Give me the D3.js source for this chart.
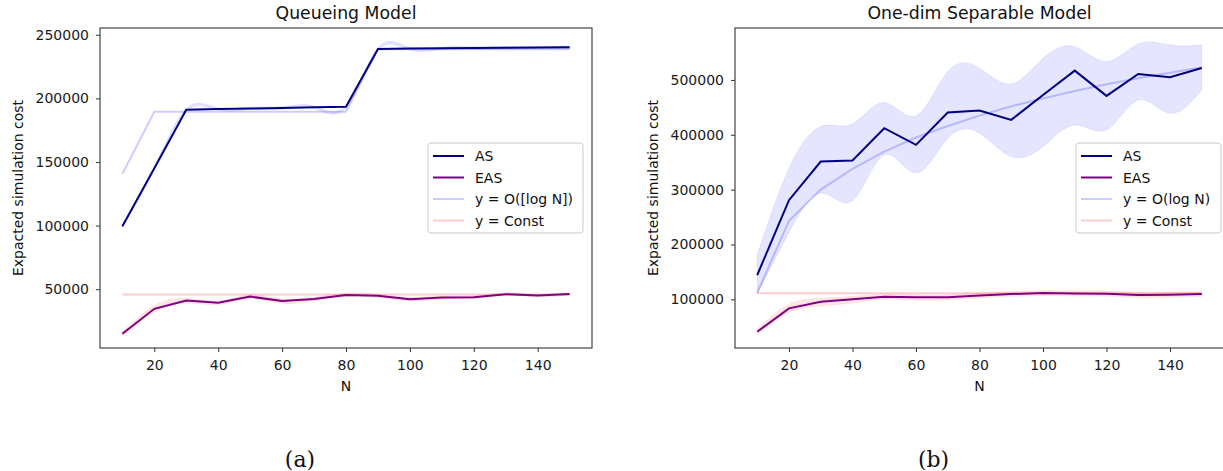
<!DOCTYPE html>
<html>
<head>
<meta charset="utf-8">
<title>Expected simulation cost</title>
<style>
  body { margin: 0; background: #fff; }
  svg { font-family: "DejaVu Sans", sans-serif; }
</style>
</head>
<body>
<div id="chart"></div>
<script src="https://d3js.org/d3.v7.min.js"></script>
<script>
// shared x values and ticks
var N = [10, 20, 30, 40, 50, 60, 70, 80, 90, 100, 110, 120, 130, 140, 150];
var xTicks = [20, 40, 60, 80, 100, 120, 140];

// (a) Queueing Model
var qAS    = [99500, 145000, 191100, 191600, 192000, 192500, 193000, 193400, 238800, 239100, 239300, 239500, 239700, 239900, 240100];
var qASLo  = [98500, 144000, 190100, 190600, 191000, 191500, 192000, 192400, 237800, 238100, 238300, 238500, 238700, 238900, 239100];
var qASHi  = [100500, 146000, 192100, 192600, 193000, 193500, 194000, 194400, 239800, 240100, 240300, 240500, 240700, 240900, 241100];
var qLog   = [140500, 189500, 189500, 189500, 189500, 189500, 189500, 189500, 238800, 238600, 238600, 238600, 238600, 238600, 238600];
var qEAS   = [15000, 34600, 41100, 39300, 44200, 40800, 42400, 45500, 44800, 42200, 43400, 43700, 46100, 45000, 46300];
var qEASLo = [13500, 32000, 39000, 38000, 42800, 38800, 41000, 44200, 43500, 40800, 42200, 42600, 45000, 44000, 45300];
var qEASHi = [16500, 37000, 43000, 40600, 45600, 42600, 43800, 46800, 46100, 43600, 44600, 44800, 47200, 46000, 47300];
var qConst = [45800, 45800, 45800, 45800, 45800, 45800, 45800, 45800, 45800, 45800, 45800, 45800, 45800, 45800, 45800];
var qTicks = [50000, 100000, 150000, 200000, 250000];

// (b) One-dim Separable Model
var sAS    = [144300, 280800, 351200, 353000, 412000, 381600, 440500, 444100, 427200, 472700, 517000, 470900, 510900, 504900, 521900];
var sASLo  = [110000, 222000, 294000, 280000, 363400, 330600, 393900, 403000, 360300, 378500, 418000, 409000, 463600, 439400, 481800];
var sASHi  = [180700, 338600, 415000, 420000, 458700, 434400, 515000, 521300, 492700, 539500, 560700, 533400, 565600, 563700, 563700];
var sLog   = [112000, 243000, 300000, 338000, 369500, 395000, 416000, 435000, 452000, 466000, 480000, 492000, 503000, 513000, 523000];
var sEAS   = [41000, 83600, 95600, 100000, 104700, 103600, 103600, 107200, 109600, 111400, 110800, 110200, 107800, 108400, 109600];
var sEASLo = [36000, 76000, 88000, 93500, 100000, 98500, 99000, 102500, 105000, 106500, 106000, 105500, 103500, 104000, 105000];
var sEASHi = [46000, 91000, 102000, 105500, 109500, 108500, 108500, 112000, 114200, 116200, 115600, 115000, 112400, 112800, 114200];
var sConst = [110900, 110900, 110900, 110900, 110900, 110900, 110900, 110900, 110900, 110900, 110900, 110900, 110900, 110900, 110900];
var sTicks = [100000, 200000, 300000, 400000, 500000];

var panels = [
  { title: "Queueing Model", caption: "(a)", left: 100, right: 592, yDomain: [3800, 255300],
    as: qAS, asLo: qASLo, asHi: qASHi, log: qLog, eas: qEAS, easLo: qEASLo, easHi: qEASHi,
    cst: qConst, yTicks: qTicks, logLabel: "y = O([log N])", legX: 428, legW: 155 },
  { title: "One-dim Separable Model", caption: "(b)", left: 735, right: 1224, yDomain: [11300, 594700],
    as: sAS, asLo: sASLo, asHi: sASHi, log: sLog, eas: sEAS, easLo: sEASLo, easHi: sEASHi,
    cst: sConst, yTicks: sTicks, logLabel: "y = O(log N)", legX: 1076, legW: 145 }
];

var plotTop = 28, plotBottom = 348;

var svg = d3.select("#chart").append("svg")
  .attr("width", 1223)
  .attr("height", 471);

panels.forEach(function(p) {
  var x = d3.scaleLinear().domain([3, 157]).range([p.left, p.right]);
  var y = d3.scaleLinear().domain(p.yDomain).range([plotBottom, plotTop]);
  var g = svg.append("g");

  var clip = "clip" + p.left;
  g.append("clipPath").attr("id", clip).append("rect")
    .attr("x", p.left).attr("y", plotTop).attr("width", p.right - p.left).attr("height", plotBottom - plotTop);
  var plot = g.append("g").attr("clip-path", "url(#" + clip + ")");

  var band = function(lo, hi) {
    return d3.area().curve(d3.curveNatural)
      .x(function(d, i) { return x(N[i]); })
      .y0(function(d, i) { return y(lo[i]); })
      .y1(function(d, i) { return y(hi[i]); })(lo);
  };
  var line = function(vals) {
    return d3.line()
      .x(function(d, i) { return x(N[i]); })
      .y(function(d) { return y(d); })(vals);
  };

  plot.append("path").attr("d", band(p.asLo, p.asHi))
    .attr("fill", "blue").attr("fill-opacity", 0.1)
    .attr("stroke", "blue").attr("stroke-opacity", 0.08).attr("stroke-width", 1);
  plot.append("path").attr("d", band(p.easLo, p.easHi))
    .attr("fill", "red").attr("fill-opacity", 0.1)
    .attr("stroke", "red").attr("stroke-opacity", 0.06).attr("stroke-width", 1);

  plot.append("path").attr("d", line(p.log))
    .attr("fill", "none").attr("stroke", "blue").attr("stroke-opacity", 0.2).attr("stroke-width", 2);
  plot.append("path").attr("d", line(p.cst))
    .attr("fill", "none").attr("stroke", "red").attr("stroke-opacity", 0.2).attr("stroke-width", 2);
  plot.append("path").attr("d", line(p.as))
    .attr("fill", "none").attr("stroke", "navy").attr("stroke-width", 2);
  plot.append("path").attr("d", line(p.eas))
    .attr("fill", "none").attr("stroke", "purple").attr("stroke-width", 2);

  // axes
  var xa = g.append("g").attr("transform", "translate(0," + plotBottom + ")")
    .call(d3.axisBottom(x).tickValues(xTicks).tickSize(4).tickPadding(8));
  var ya = g.append("g").attr("transform", "translate(" + p.left + ",0)")
    .call(d3.axisLeft(y).tickValues(p.yTicks).tickFormat(d3.format("d")).tickSize(4).tickPadding(7));
  [xa, ya].forEach(function(a) {
    a.select(".domain").remove();
    a.selectAll("text").attr("font-size", 14).attr("fill", "#1a1a1a").attr("font-family", "DejaVu Sans");
    a.selectAll("line").attr("stroke", "#333");
  });

  g.append("rect").attr("x", p.left).attr("y", plotTop)
    .attr("width", p.right - p.left).attr("height", plotBottom - plotTop)
    .attr("fill", "none").attr("stroke", "#333").attr("stroke-width", 1.1);

  var cx = (p.left + p.right) / 2;
  g.append("text").attr("x", cx).attr("y", 19).attr("text-anchor", "middle")
    .attr("font-size", 17.3).attr("fill", "#111").text(p.title);
  g.append("text").attr("x", cx).attr("y", 391).attr("text-anchor", "middle")
    .attr("font-size", 14).attr("fill", "#111").text("N");
  g.append("text").attr("transform", "translate(" + (p.left - 77) + "," + ((plotTop + plotBottom) / 2) + ") rotate(-90)")
    .attr("text-anchor", "middle").attr("font-size", 14).attr("fill", "#111")
    .text("Expacted simulation cost");
  g.append("text").attr("x", cx - 46).attr("y", 467).attr("text-anchor", "middle")
    .attr("font-family", "DejaVu Serif").attr("font-size", 22).attr("fill", "#111").text(p.caption);

  // legend
  var items = [
    { label: "AS", color: "navy", op: 1 },
    { label: "EAS", color: "purple", op: 1 },
    { label: p.logLabel, color: "blue", op: 0.2 },
    { label: "y = Const", color: "red", op: 0.2 }
  ];
  var lg = g.append("g").attr("transform", "translate(" + p.legX + ",143)");
  lg.append("rect").attr("width", p.legW).attr("height", 90).attr("rx", 3)
    .attr("fill", "white").attr("fill-opacity", 0.8).attr("stroke", "#ccc");
  items.forEach(function(it, i) {
    var yy = 13 + i * 21.5;
    lg.append("line").attr("x1", 5).attr("x2", 36).attr("y1", yy).attr("y2", yy)
      .attr("stroke", it.color).attr("stroke-opacity", it.op).attr("stroke-width", 2);
    lg.append("text").attr("x", 47).attr("y", yy + 5).attr("font-size", 14).attr("fill", "#111").text(it.label);
  });
});
</script>
</body>
</html>
